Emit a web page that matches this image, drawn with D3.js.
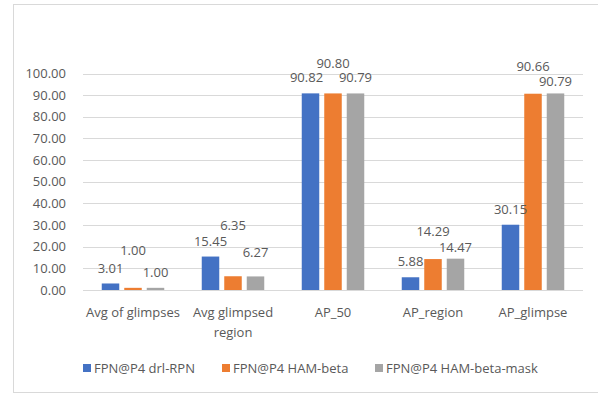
<!DOCTYPE html>
<html>
<head>
<meta charset="utf-8">
<script src="https://cdn.jsdelivr.net/npm/d3@7"></script>
<style>
  body { margin: 0; background: #fff; }
  text { font-family: "Open Sans", sans-serif; fill: #595959; }
</style>
</head>
<body>
<svg id="chart" width="598" height="394"></svg>
<script>
// Data
const categories = ["Avg of glimpses", "Avg glimpsed region", "AP_50", "AP_region", "AP_glimpse"];
const seriesNames = ["FPN@P4 drl-RPN", "FPN@P4 HAM-beta", "FPN@P4 HAM-beta-mask"];
const drlRPN = [3.01, 15.45, 90.82, 5.88, 30.15];
const hamBeta = [1.00, 6.35, 90.80, 14.29, 90.66];
const hamBetaMask = [1.00, 6.27, 90.79, 14.47, 90.79];
const yTicks = [0, 10, 20, 30, 40, 50, 60, 70, 80, 90, 100];
const colors = ["#4472C4", "#ED7D31", "#A5A5A5"];

const seriesValues = [drlRPN, hamBeta, hamBetaMask];

// Label nudges (Excel moved some overlapping labels) [series][category] as [dx, dy]
const labelNudge = [
    [[0, 0], [0, 0], [-4, 0], [0, 0], [0, 0]],
    [[0, -22], [0, -35], [0, -14], [0, -12], [0, -12]],
    [[0, 0], [0, -8], [0, 0], [0, 4], [0, 4]]
];

const svg = d3.select('#chart');

// Outer chart border
svg.append('rect')
    .attr('x', 13.5)
    .attr('y', 4.5)
    .attr('width', 590)
    .attr('height', 388)
    .attr('fill', 'none')
    .attr('stroke', '#d9d9d9');

// Scales
const plotLeft = 83, plotRight = 583;
const x0 = d3.scaleBand().domain(categories).range([plotLeft, plotRight]);
const x1 = d3.scaleBand().domain(seriesNames).range([-31.25, 31.25]).paddingInner(0.222);
const y = d3.scaleLinear().domain([0, 100]).range([290, 73.5]);

// Gridlines
svg.append('g')
    .selectAll('line')
    .data(yTicks)
    .join('line')
    .attr('x1', plotLeft)
    .attr('x2', plotRight)
    .attr('y1', d => Math.round(y(d)) + 0.5)
    .attr('y2', d => Math.round(y(d)) + 0.5)
    .attr('stroke', '#d9d9d9')
    .attr('stroke-width', 1);

// Y tick labels
svg.append('g')
    .selectAll('text')
    .data(yTicks)
    .join('text')
    .attr('x', 66)
    .attr('y', d => y(d))
    .attr('dy', '0.35em')
    .attr('text-anchor', 'end')
    .style('font-size', '13px')
    .text(d => d.toFixed(2));

// Bars
const rows = [];
seriesValues.forEach((vals, s) => {
    vals.forEach((v, c) => rows.push({ s, c, v }));
});

const barX = d => x0(categories[d.c]) + x0.bandwidth() / 2 + x1(seriesNames[d.s]);

svg.append('g')
    .selectAll('rect')
    .data(rows)
    .join('rect')
    .attr('x', barX)
    .attr('y', d => y(d.v))
    .attr('width', x1.bandwidth())
    .attr('height', d => y(0) - y(d.v))
    .attr('fill', d => colors[d.s]);

// Baseline
svg.append('line')
    .attr('x1', plotLeft)
    .attr('x2', plotRight)
    .attr('y1', 290.5)
    .attr('y2', 290.5)
    .attr('stroke', '#d9d9d9');

// Data labels
svg.append('g')
    .selectAll('text')
    .data(rows)
    .join('text')
    .attr('x', d => barX(d) + x1.bandwidth() / 2 + labelNudge[d.s][d.c][0])
    .attr('y', d => y(d.v) - 15.5 + labelNudge[d.s][d.c][1])
    .attr('dy', '0.35em')
    .attr('text-anchor', 'middle')
    .style('font-size', '13px')
    .text(d => d.v.toFixed(2));

// Category labels, wrapped to the band width
const catLabels = svg.append('g')
    .selectAll('text')
    .data(categories)
    .join('text')
    .attr('x', d => x0(d) + x0.bandwidth() / 2)
    .attr('y', 312)
    .attr('dy', '0.35em')
    .attr('text-anchor', 'middle')
    .style('font-size', '13px');

catLabels.each(function(d) {
    const el = d3.select(this);
    const words = d.split(' ');
    let line = [];
    let lineNo = 0;
    let tspan = el.append('tspan').attr('x', el.attr('x')).attr('dy', '0.35em');
    words.forEach(w => {
        line.push(w);
        tspan.text(line.join(' '));
        if (tspan.node().getComputedTextLength() > 96 && line.length > 1) {
            line.pop();
            tspan.text(line.join(' '));
            line = [w];
            lineNo++;
            tspan = el.append('tspan').attr('x', el.attr('x')).attr('dy', '20px').text(w);
        }
    });
});
catLabels.attr('dy', null);

// Legend
const legendX = [83, 222, 375];
const legend = svg.append('g')
    .selectAll('g')
    .data(seriesNames)
    .join('g')
    .attr('transform', (d, i) => `translate(${legendX[i]},368)`);

legend.append('rect')
    .attr('x', 0)
    .attr('y', -4)
    .attr('width', 8)
    .attr('height', 8)
    .attr('fill', (d, i) => colors[i]);

legend.append('text')
    .attr('x', 11)
    .attr('y', 0)
    .attr('dy', '0.35em')
    .style('font-size', '13px')
    .text(d => d);
</script>
</body>
</html>
